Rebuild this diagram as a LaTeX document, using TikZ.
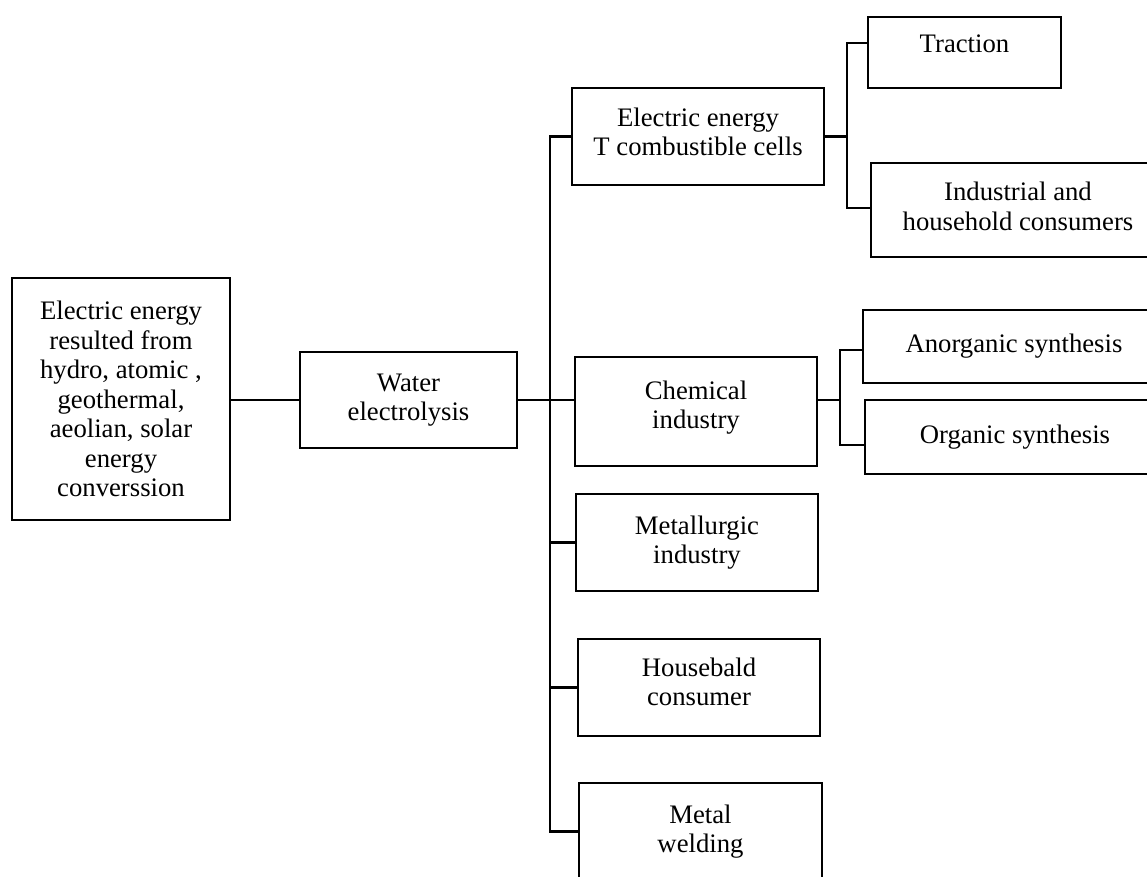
\documentclass[tikz,border=0pt]{standalone}
\usepackage{fontspec}
\setmainfont{Liberation Serif}
\usepackage{tikz}
\usetikzlibrary{positioning}
\usetikzlibrary{calc}

\begin{document}
\begin{tikzpicture}[line width=1.6pt, font=\fontsize{19}{21}\selectfont]
            \clip (0,0) rectangle (28.675,21.9);
            \begin{scope}[every node/.style={rectangle,draw,align=center,inner sep=0pt}]
              \node[minimum width=5.45cm,minimum height=6.05cm] (src) at (3.025,11.925) {Electric energy\\resulted from\\hydro, atomic ,\\geothermal,\\aeolian, solar\\energy\\converssion};
              \node[minimum width=5.425cm,minimum height=2.4cm] (water) at (10.2125,11.9) {Water\\electrolysis};
              \node[minimum width=6.3cm,minimum height=2.425cm,text depth=0.25cm] (cells) at (17.45,18.4875) {Electric energy\\T combustible cells};
              \node[minimum width=4.825cm,minimum height=1.775cm,text depth=0.42cm] (traction) at (24.1125,20.5875) {Traction};
              \node[minimum width=7.35cm,minimum height=2.35cm,text depth=0.2cm] (consumers) at (25.45,16.65) {Industrial and\\household consumers};
              \node[minimum width=6.05cm,minimum height=2.725cm,text depth=0.35cm] (chem) at (17.4,11.6125) {Chemical\\industry};
              \node[minimum width=7.55cm,minimum height=1.825cm] (anorg) at (25.35,13.2375) {Anorganic synthesis};
              \node[minimum width=7.5cm,minimum height=1.85cm] (org) at (25.375,10.975) {Organic synthesis};
              \node[minimum width=6.05cm,minimum height=2.425cm] (metal) at (17.425,8.3375) {Metallurgic\\industry};
              \node[minimum width=6.05cm,minimum height=2.425cm,text depth=0.3cm] (house) at (17.475,4.7125) {Housebald\\consumer};
              \node[minimum width=6.075cm,minimum height=2.425cm] (weld) at (17.5125,1.1125) {Metal\\welding};
            \end{scope}
            \coordinate (bus) at (13.75,0);
            \coordinate (bustwo) at (21.175,0);
            \coordinate (busthree) at (21.0,0);
            \draw (src.east |- water) -- (water.west);
            \draw (water.east) -- (chem.west |- water.east);
            \draw (cells.west) -| (bus |- weld) -- (weld.west);
            \foreach \n in {metal,house}
              \draw (\n.west) -- (\n.west -| bus);
            \draw (cells.east) -- (cells.east -| bustwo);
            \draw ([yshift=0.24cm]traction.west) -| ([yshift=0.05cm]bustwo |- consumers.west) -- ([yshift=0.05cm]consumers.west);
            \draw (chem.east |- water) -- (busthree |- water);
            \draw ([yshift=-0.09cm]anorg.west) -| ([yshift=-0.2cm]busthree |- org.west) -- ([yshift=-0.2cm]org.west);
          \end{tikzpicture}
\end{document}
